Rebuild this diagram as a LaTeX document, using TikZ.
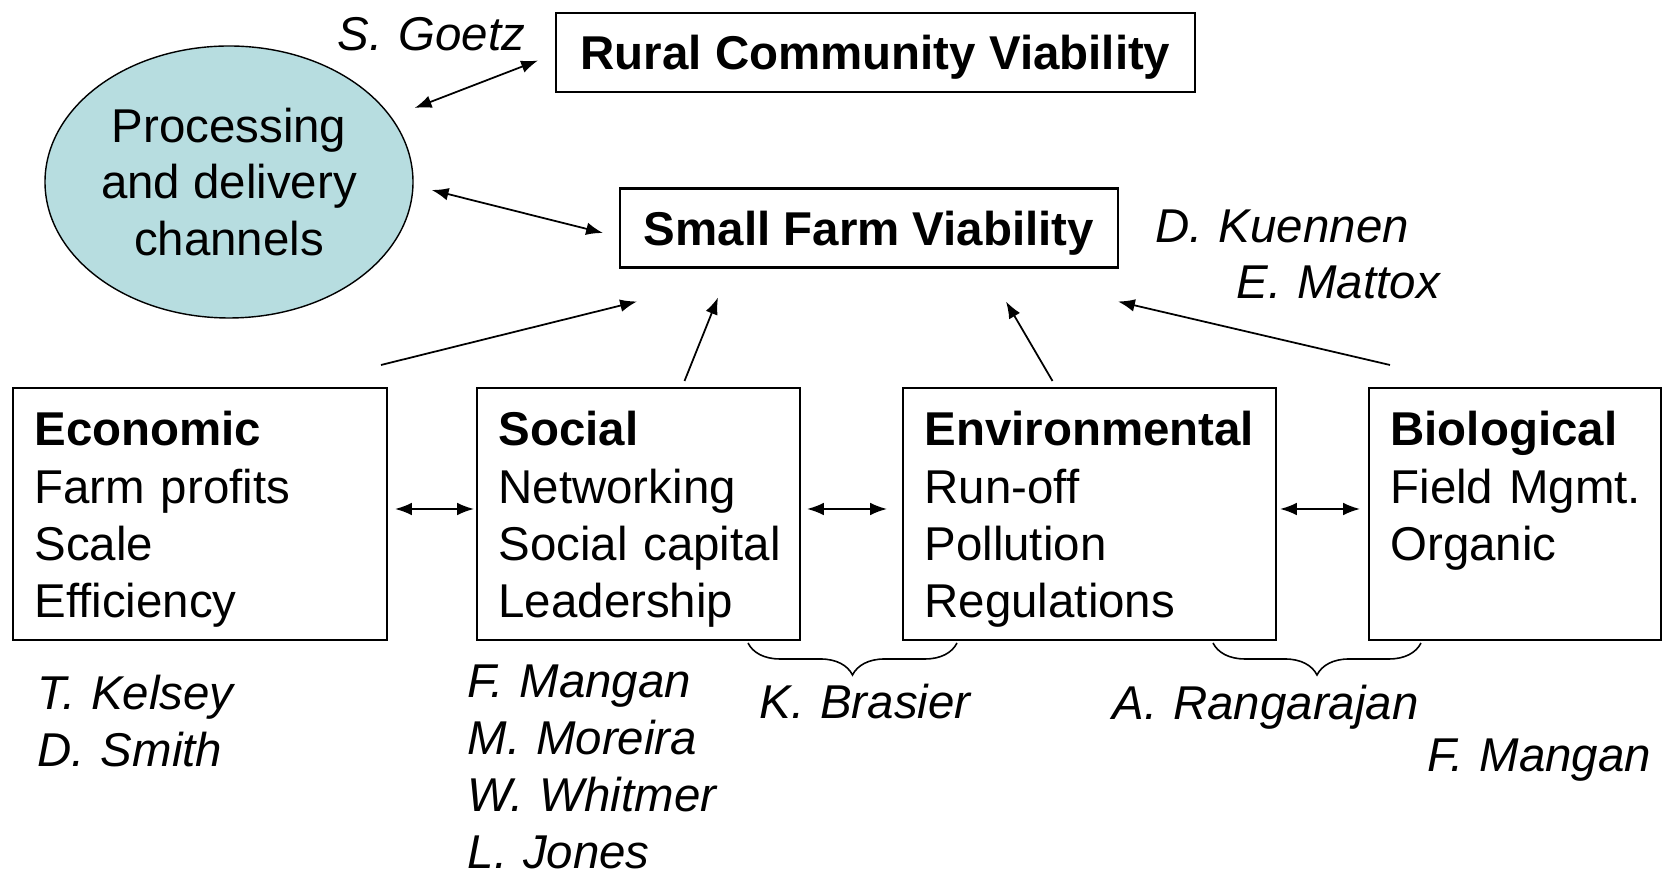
\documentclass[tikz,border=0pt]{standalone}
\usepackage{fontspec}
\setmainfont{Liberation Sans}
\usepackage{tikz}
\usetikzlibrary{shapes.geometric}
\usetikzlibrary{arrows.meta}
\usetikzlibrary{decorations.pathreplacing}
\definecolor{channel-blue}{HTML}{B7DDE0}
\newcommand{\boxfont}{\fontsize{13.5}{16.3}\selectfont\hyphenpenalty=10000}
\newcommand{\namefont}{\fontsize{13.5}{16.2}\selectfont\itshape\hyphenpenalty=10000}
\tikzset{
  viability/.style={draw, line width=0.6pt, font=\boxfont\bfseries, inner sep=0pt, outer sep=0pt, minimum height=7.9mm, text depth=0pt},
  factor/.style={draw, line width=0.6pt, anchor=north west, align=left, font=\boxfont, inner xsep=2.15mm, inner ysep=0pt, outer sep=0pt, text height=5.8mm, text depth=19.4mm},
  channel/.style={ellipse, draw, line width=0.4pt, fill=channel-blue, inner sep=0pt, minimum width=36.8mm, minimum height=27.2mm, align=center, font=\fontsize{13.5}{16.2}\selectfont},
  researcher/.style={font=\namefont, inner sep=0pt, anchor=base west, text width=40mm, align=left},
  link/.style={line width=0.5pt, -{Latex[length=4.8pt, width=3.6pt]}},
  both-link/.style={line width=0.5pt, {Latex[length=4.8pt, width=3.6pt]}-{Latex[length=4.8pt, width=3.6pt]}},
  group-brace/.style={decorate, decoration={brace, amplitude=3.2mm}, line width=0.45pt},
}

\begin{document}
\begin{tikzpicture}[x=0.1mm, y=-0.1mm]
\useasboundingbox (0,0) rectangle (1663,872);

% top row
\node[channel] (proc) at (229,182) {Processing\\and delivery\\channels};
\node[viability, minimum width=63.9mm] (rural) at (875.5,52.5) {Rural Community Viability};
\node[viability, minimum width=49.8mm] (sfv) at (869,228) {Small Farm Viability};

% the four factors
\node[factor, text width=33.1mm] (eco) at (13,388) {\textbf{Economic}\\Farm~profits\\Scale\\Efficiency};
\node[factor, text width=28.0mm] (soc) at (477,388) {\textbf{Social}\\Networking\\Social~capital\\Leadership};
\node[factor, text width=33.0mm] (env) at (903,388) {\textbf{Environmental}\\Run-off\\Pollution\\Regulations};
\node[factor, text width=24.9mm] (bio) at (1369,388) {\textbf{Biological}\\Field~Mgmt.\\Organic};

% researchers
\node[researcher] (goetz) at (337,51) {S. Goetz};
\node[researcher] (kuennen) at (1155,243) {D. Kuennen};
\node[researcher] (mattox) at (1236,299) {E. Mattox};
\node[researcher] (kelsey) at (37,710) {T. Kelsey\\D. Smith};
\node[researcher] (mangan) at (467,698) {F. Mangan\\M. Moreira\\W. Whitmer\\L. Jones};
\node[researcher] (brasier) at (759,719) {K. Brasier};
\node[researcher] (rangarajan) at (1112,720) {A.~Rangarajan};
\node[researcher] (mangan2) at (1427,772) {F. Mangan};

% links to the viability boxes
\draw[both-link] ([shift={(1,-74)}]proc.east) -- ([shift={(-18,8)}]rural.west);
\draw[both-link] ([shift={(18,8)}]proc.east) -- ([shift={(-17,5)}]sfv.west);
\draw[link] ([shift={(-6,-23)}]eco.north east) -- ([shift={(17,34)}]sfv.south west);
\draw[link] ([shift={(46,-7)}]soc.north) -- ([shift={(98,30)}]sfv.south west);
\draw[link] ([shift={(-37,-7)}]env.north) -- ([shift={(-112,34)}]sfv.south east);
\draw[link] ([shift={(21,-23)}]bio.north west) -- ([shift={(0,34)}]sfv.south east);

% links between factors
\draw[both-link] ([shift={(8,-5)}]eco.east) -- ([shift={(-3,-5)}]soc.west);
\draw[both-link] ([shift={(7,-5)}]soc.east) -- ([shift={(-16,-5)}]env.west);
\draw[both-link] ([shift={(4,-5)}]env.east) -- ([shift={(-9,-5)}]bio.west);

% braces under neighbouring factors
\draw[group-brace] ([shift={(54,3)}]env.south west) -- ([shift={(-52,3)}]soc.south east);
\draw[group-brace] ([shift={(52,3)}]bio.south west) -- ([shift={(-63,3)}]env.south east);
\end{tikzpicture}
\end{document}
